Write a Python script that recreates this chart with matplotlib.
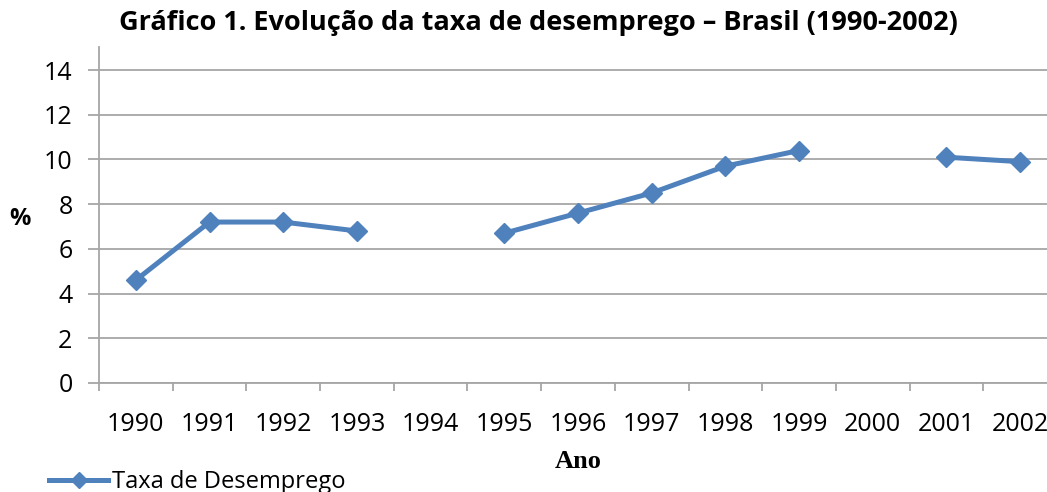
import numpy as np
import matplotlib
matplotlib.use("Agg")
import matplotlib.pyplot as plt
from matplotlib.ticker import FixedLocator, NullFormatter

years = ["1990", "1991", "1992", "1993", "1994", "1995", "1996",
         "1997", "1998", "1999", "2000", "2001", "2002"]
taxa = [4.6, 7.2, 7.2, 6.8, np.nan, 6.7, 7.6, 8.5, 9.7, 10.4, np.nan, 10.1, 9.9]
y_ticks = [0, 2, 4, 6, 8, 10, 12, 14]

title = "Gráfico 1. Evolução da taxa de desemprego – Brasil (1990-2002)"
series_name = "Taxa de Desemprego"

W, H = 1047, 492
fig = plt.figure(figsize=(W / 100, H / 100), dpi=100)
ax = fig.add_axes([99 / W, (H - 383) / H, (1057 - 99) / W, (383 - 47) / H])

color = "#4F81BD"
grid_c = "#A6A6A6"
x = np.arange(len(years))
line, = ax.plot(x, taxa, color=color, lw=3.6, marker="D", ms=10,
                markeredgecolor=color, markerfacecolor=color,
                label=series_name, solid_joinstyle="round", clip_on=False)

ax.set_xlim(-0.5, len(years) - 0.5)
ax.set_ylim(0, 15.03)
ax.set_yticks(y_ticks)
ax.yaxis.grid(True, color=grid_c, lw=1.3)
ax.set_axisbelow(True)

ax.xaxis.set_major_locator(FixedLocator(np.arange(-0.5, len(years), 1.0)))
ax.xaxis.set_major_formatter(NullFormatter())
ax.xaxis.set_minor_locator(FixedLocator(x))
ax.set_xticks(x, minor=True)
ax.set_xticklabels(years, minor=True)

for lab in ax.get_xticklabels(minor=True) + ax.get_yticklabels():
    lab.set_fontfamily("Open Sans")
    lab.set_fontsize(18)
    lab.set_color("#000000")

ax.tick_params(axis="x", which="major", length=6, width=1.3, color=grid_c, direction="out")
ax.tick_params(axis="x", which="minor", length=0, pad=21)
ax.tick_params(axis="y", length=8, width=1.3, color=grid_c, pad=11)

for s in ["top", "right"]:
    ax.spines[s].set_visible(False)
for s in ["left", "bottom"]:
    ax.spines[s].set_color(grid_c)
    ax.spines[s].set_linewidth(1.3)

fig.text(538 / W, 1 - 23 / H, title, ha="center", va="center",
         fontsize=19.5, fontweight="bold", family="Open Sans")
fig.text(20 / W, 1 - 219 / H, "%", ha="center", va="center",
         fontsize=17, fontweight="bold", family="Open Sans")
fig.text(578 / W, 1 - 462 / H, "Ano", ha="center", va="center",
         fontsize=19, fontweight="bold", family="Liberation Serif")

leg = fig.legend(handles=[line], loc="center left",
                 bbox_to_anchor=(40 / W, 1 - 482 / H), frameon=False,
                 prop={"family": "Open Sans", "size": 17},
                 handlelength=2.5, handletextpad=0.15, borderaxespad=0)
for h in leg.legend_handles:
    h.set_markersize(8)

fig.savefig("out.png", dpi=100)
